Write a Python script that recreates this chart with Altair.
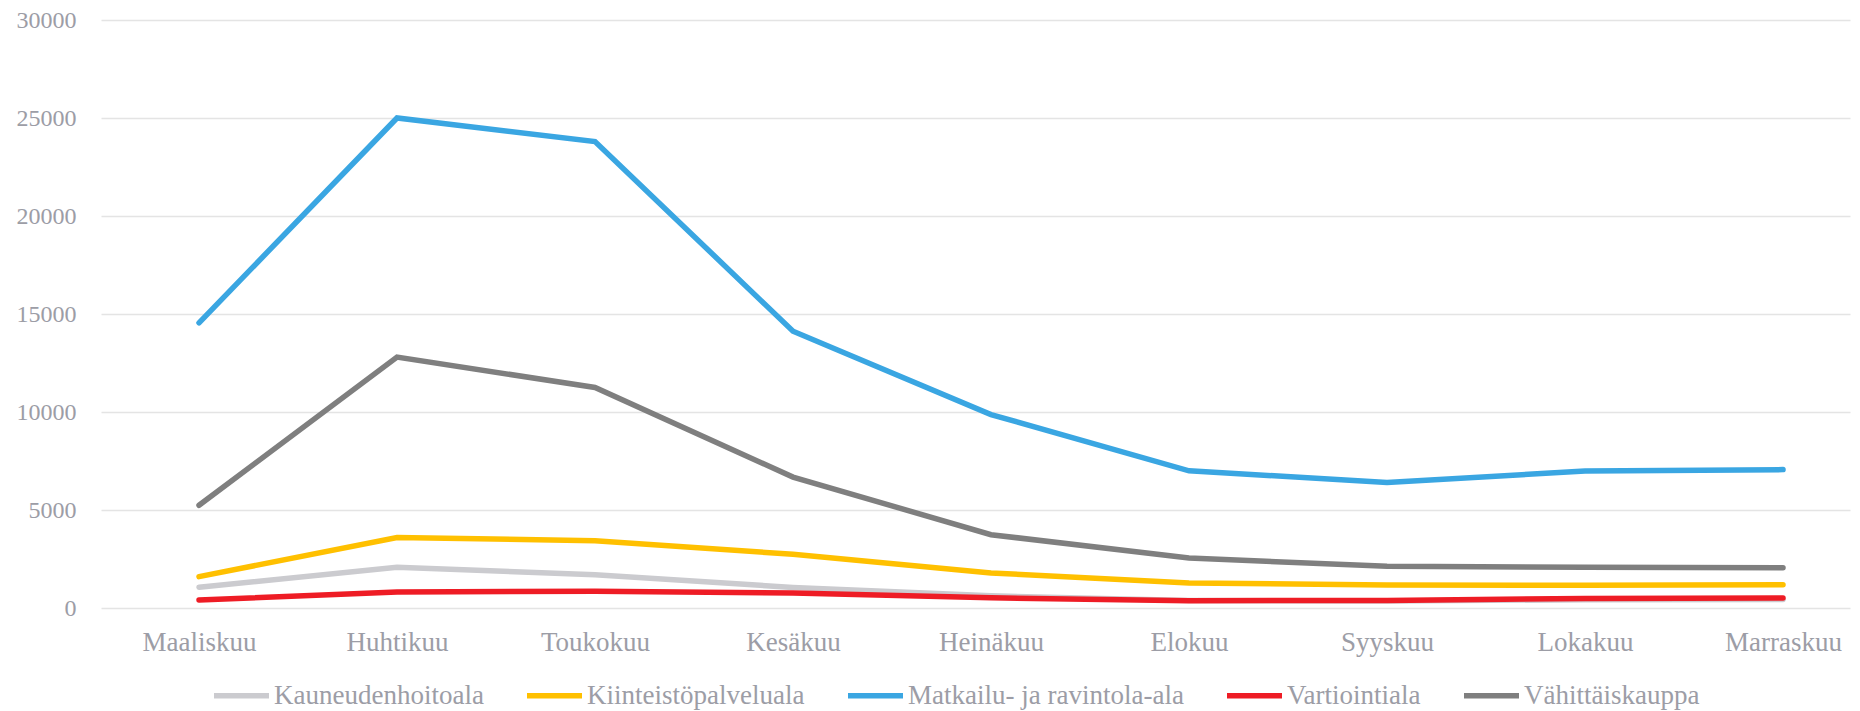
import altair as alt
import pandas as pd

kuukaudet = ["Maaliskuu", "Huhtikuu", "Toukokuu", "Kesäkuu", "Heinäkuu",
             "Elokuu", "Syyskuu", "Lokakuu", "Marraskuu"]
sarjat = ["Kauneudenhoitoala", "Kiinteistöpalveluala", "Matkailu- ja ravintola-ala",
          "Vartiointiala", "Vähittäiskauppa"]
kauneudenhoitoala = [1060, 2080, 1700, 1050, 620, 380, 360, 420, 430]
kiinteistopalveluala = [1600, 3600, 3430, 2740, 1790, 1280, 1170, 1160, 1190]
matkailu_ravintola = [14550, 25000, 23800, 14120, 9870, 7000, 6400, 6990, 7060]
vartiointiala = [410, 820, 850, 770, 520, 375, 380, 490, 510]
vahittaiskauppa = [5240, 12800, 11250, 6680, 3740, 2550, 2130, 2080, 2050]
varit = ["#cbcbcf", "#ffc000", "#3aa6e2", "#ee1c25", "#7f7f7f"]
y_ticks = [0, 5000, 10000, 15000, 20000, 25000, 30000]

arvot = [kauneudenhoitoala, kiinteistopalveluala, matkailu_ravintola,
         vartiointiala, vahittaiskauppa]
rows = []
for s, vals in zip(sarjat, arvot):
    for i, (k, v) in enumerate(zip(kuukaudet, vals)):
        rows.append({"kuukausi": k, "idx": i, "sarja": s, "arvo": v})
df = pd.DataFrame(rows)

FONT = "Liberation Serif"
TXT = "#9c9da6"

chart = alt.Chart(df).mark_line(
    strokeWidth=5.5, strokeCap="round", strokeJoin="miter"
).encode(
    x=alt.X("kuukausi:N", sort=kuukaudet, title=None,
            scale=alt.Scale(type="point", padding=0.4167, align=0.594),
            axis=alt.Axis(labelAngle=0, domain=False, ticks=False, grid=False,
                          labelFont=FONT, labelFontSize=27, labelColor=TXT,
                          labelPadding=21)),
    y=alt.Y("arvo:Q", title=None,
            scale=alt.Scale(domain=[0, 30000], nice=False),
            axis=alt.Axis(values=y_ticks, format="d", domain=False, ticks=False,
                          tickSize=0, labelPadding=25, gridColor="#e4e4e4",
                          gridWidth=1.5, labelFont=FONT, labelFontSize=24,
                          labelColor=TXT)),
    color=alt.Color("sarja:N", sort=sarjat,
                    scale=alt.Scale(domain=sarjat, range=varit),
                    legend=alt.Legend(title=None, orient="none", direction="horizontal",
                                      columns=5, legendX=110, legendY=645,
                                      symbolType="stroke", symbolSize=3025,
                                      symbolStrokeWidth=5.5, labelOffset=2,
                                      columnPadding=32, labelFont=FONT,
                                      labelFontSize=27, labelColor=TXT,
                                      labelLimit=500)),
    order=alt.Order("idx:Q"),
).properties(
    width=1749, height=588,
    padding={"left": 93, "top": 12, "right": 2, "bottom": 107},
    autosize=alt.AutoSizeParams(type="none"),
).configure_view(stroke=None)

chart.save("out.html", embed_options={"renderer": "svg", "actions": False})
